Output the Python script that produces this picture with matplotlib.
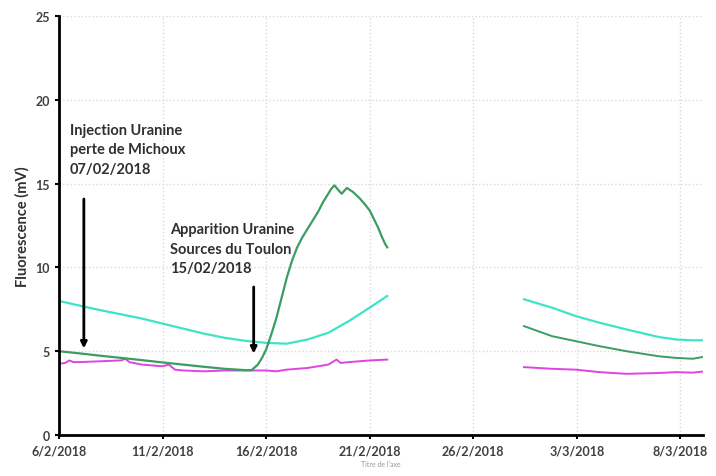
import numpy as np
import pandas as pd
import matplotlib
matplotlib.use("Agg")
import matplotlib.pyplot as plt

plt.rcParams['font.family'] = ['Lato', 'DejaVu Sans']

start = pd.Timestamp('2018-02-06')

# days after 6/2/2018 and fluorescence (mV), first measurement period
days_a = [0, 1, 2, 3, 4, 5, 6, 7, 8, 9, 9.3, 9.6, 9.8, 10, 10.25, 10.5, 10.75,
          11, 11.25, 11.5, 11.75, 12, 12.25, 12.5, 12.75, 13, 13.15, 13.3,
          13.5, 13.65, 13.9, 14.2, 14.5, 14.75, 15, 15.2, 15.4, 15.6, 15.75, 15.85]
green_a = [5.0, 4.87, 4.73, 4.6, 4.47, 4.33, 4.2, 4.07, 3.95, 3.87, 3.87, 4.2,
           4.6, 5.1, 6.0, 7.0, 8.2, 9.4, 10.4, 11.2, 11.8, 12.3, 12.8, 13.3,
           13.9, 14.4, 14.7, 14.9, 14.6, 14.4, 14.75, 14.5, 14.15, 13.8, 13.4,
           12.9, 12.4, 11.8, 11.4, 11.2]

days_c = [0, 1, 2, 3, 4, 5, 6, 7, 8, 9, 10, 11, 12, 13, 14, 15, 15.85]
cyan_a = [8.0, 7.72, 7.45, 7.2, 6.95, 6.65, 6.35, 6.05, 5.8, 5.62, 5.5, 5.45,
          5.7, 6.1, 6.8, 7.6, 8.3]

days_m = [0, 0.3, 0.5, 0.7, 1, 2, 3, 3.2, 3.4, 4, 5, 5.3, 5.6, 6, 7, 8, 9, 10,
          10.5, 11, 12, 13, 13.4, 13.6, 14, 15, 15.85]
magenta_a = [4.25, 4.3, 4.45, 4.35, 4.35, 4.4, 4.45, 4.55, 4.35, 4.2, 4.1, 4.2,
             3.9, 3.85, 3.8, 3.85, 3.85, 3.85, 3.8, 3.9, 4.0, 4.2, 4.5, 4.3,
             4.35, 4.45, 4.5]

# second measurement period
days_b = [22.45, 23.8, 24.95, 26.1, 27.4, 28.95, 29.8, 30.6, 31.05]
cyan_b = [8.1, 7.6, 7.1, 6.7, 6.3, 5.85, 5.7, 5.65, 5.65]
green_b = [6.5, 5.9, 5.6, 5.3, 5.0, 4.7, 4.6, 4.55, 4.65]
magenta_b = [4.05, 3.95, 3.9, 3.75, 3.65, 3.7, 3.75, 3.72, 3.78]

green = '#3a9d62'
cyan = '#3fe3c8'
magenta = '#e044e0'


def to_dates(days):
    return [start + pd.Timedelta(days=d) for d in days]


fig = plt.figure(figsize=(7.16, 4.77), dpi=100)
ax = fig.add_axes([0.0824, 0.086, 0.8996, 0.878])

ax.plot(to_dates(days_c), cyan_a, color=cyan, lw=1.6)
ax.plot(to_dates(days_m), magenta_a, color=magenta, lw=1.4)
ax.plot(to_dates(days_a), green_a, color=green, lw=1.6)
ax.plot(to_dates(days_b), cyan_b, color=cyan, lw=1.6)
ax.plot(to_dates(days_b), green_b, color=green, lw=1.4)
ax.plot(to_dates(days_b), magenta_b, color=magenta, lw=1.4)

ax.set_ylim(0, 25)
ax.set_yticks(range(0, 26, 5))
ax.set_xlim(start, start + pd.Timedelta(days=31.1))
ticks = [start + pd.Timedelta(days=5 * i) for i in range(7)]
ax.set_xticks(ticks)
ax.set_xticklabels([f'{t.day}/{t.month}/{t.year}' for t in ticks])

ax.grid(True, color='#d9d9d9', linestyle=':', lw=1)
for s in ['top', 'right']:
    ax.spines[s].set_visible(False)
for s in ['left', 'bottom']:
    ax.spines[s].set_linewidth(2)
    ax.spines[s].set_color('black')
ax.tick_params(axis='both', labelsize=9, colors='black', labelcolor='#404040',
               length=3, width=1.5)
for lab in ax.get_xticklabels() + ax.get_yticklabels():
    lab.set_fontweight('bold')

ax.set_ylabel('Fluorescence (mV)', fontsize=10.5, fontweight='bold', color='#303030')
ax.set_xlabel("Titre de l'axe", fontsize=5, color='#999999', labelpad=3)

ax.text(start + pd.Timedelta(days=0.53), 18.65,
        'Injection Uranine\nperte de Michoux\n07/02/2018',
        fontsize=10.5, fontweight='bold', color='#303030', va='top',
        linespacing=1.5)
ax.text(start + pd.Timedelta(days=5.35), 12.7,
        'Apparition Uranine\nSources du Toulon\n15/02/2018',
        fontsize=10.5, fontweight='bold', color='#303030', va='top',
        linespacing=1.5)

arrow = dict(arrowstyle='-|>', color='black', lw=2, mutation_scale=9)
ax.annotate('', xy=(start + pd.Timedelta(days=1.2), 5.0),
            xytext=(start + pd.Timedelta(days=1.2), 14.25), arrowprops=arrow)
ax.annotate('', xy=(start + pd.Timedelta(days=9.4), 4.7),
            xytext=(start + pd.Timedelta(days=9.4), 9.0), arrowprops=arrow)

fig.savefig('out.png', dpi=100)
